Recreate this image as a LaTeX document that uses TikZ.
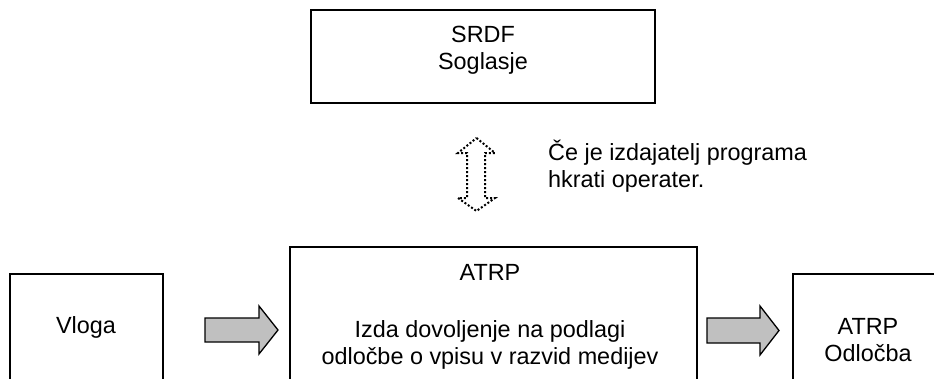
\documentclass[tikz,border=0pt]{standalone}
\usepackage{fontspec}
\setmainfont{Liberation Sans}
\definecolor{blockgray}{RGB}{192,192,192}
\begin{document}
\begin{tikzpicture}[x=1pt,y=-1pt,
  box/.style={draw=black, line width=1.5pt},
  txt/.style={font=\fontsize{23.4}{27}\selectfont, align=center, inner sep=0pt},
  blockarrow/.style={draw=black, fill=blockgray, line width=1.3pt, line join=miter},
  dottedarrow/.style={draw=black, line width=2pt, dash pattern=on 2pt off 2pt}]
\useasboundingbox (0,0) rectangle (934,378);
\clip (0,0) rectangle (934,378);
\fill[white] (0,0) rectangle (934,378);
% boxes
\draw[box] (311,10) rectangle (655,103);
\draw[box] (10,274) rectangle (163,400);
\draw[box] (290,247) rectangle (697,400);
\draw[box] (793,274) rectangle (943,400);
% texts
\node[txt] (srdf) at (483,50.5) {SRDF\\Soglasje};
\node[txt] (vloga) at (86,327) {Vloga};
\node[txt] (atrp) at (490,272) {ATRP};
\node[txt] (izda) at (490,345) {Izda dovoljenje na podlagi\\odločbe o vpisu v razvid medijev};
\node[txt] (odl) at (868,340.5) {ATRP\\Odločba};
\node[txt, align=left, anchor=west] (note) at (548,166.5) {Če je izdajatelj programa\\hkrati operater.};
% block arrows
\draw[blockarrow] (205,318) -- (259,318) -- (259,306) -- (278,330) -- (259,354) -- (259,342) -- (205,342) -- cycle;
\draw[blockarrow] (707,318) -- (760,318) -- (760,306) -- (779,330.5) -- (760,355) -- (760,343) -- (707,343) -- cycle;
% dotted double arrow
\draw[dottedarrow] (476.5,138) -- (495,153) -- (485,153) -- (485,198) -- (495,198) -- (476.5,211) -- (458,198) -- (467,198) -- (467,153) -- (458,153) -- cycle;
\end{tikzpicture}
\end{document}
